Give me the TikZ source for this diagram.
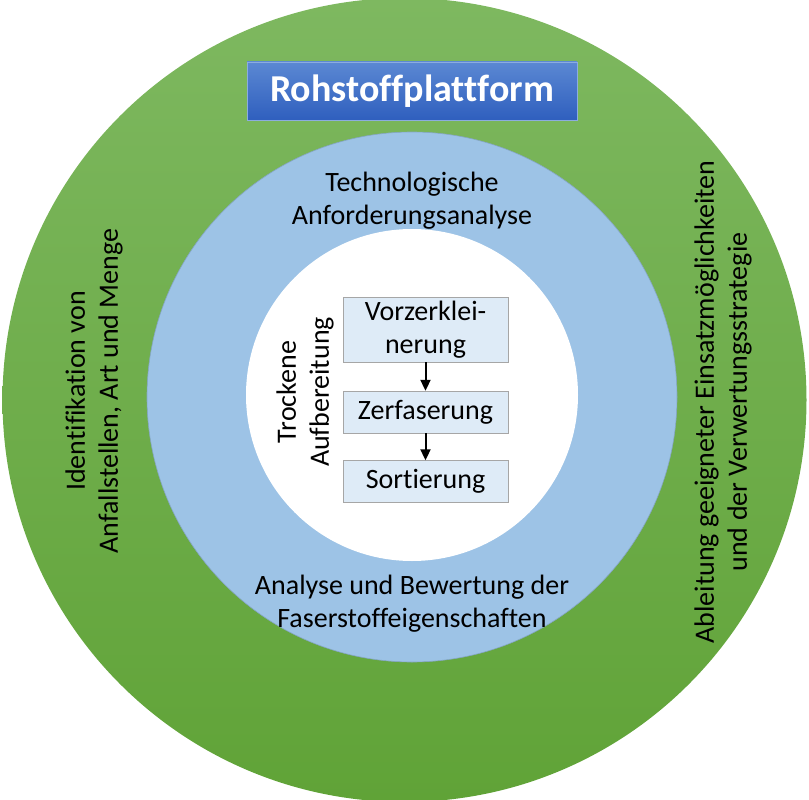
\documentclass[tikz,border=0pt]{standalone}
\usepackage{fontspec}
\setmainfont{Carlito}[Ligatures=NoCommon]
\usetikzlibrary{positioning,arrows.meta}

\definecolor{greenlight}{HTML}{7EB860}
\definecolor{greendark}{HTML}{60A337}
\definecolor{ringblue}{HTML}{9DC3E6}
\definecolor{stepfill}{HTML}{DEEBF7}
\definecolor{titletop}{HTML}{5B88D3}
\definecolor{titlebot}{HTML}{2F5FBE}

\tikzset{
	ringtext/.style={align=center, font=\fontsize{28}{33}\selectfont},
	stepbox/.style={draw=gray!70, fill=stepfill, minimum width=165pt, align=center,
		font=\fontsize{28}{33}\selectfont, inner sep=0pt},
	flow/.style={-{Triangle[length=11pt,width=10pt]}, line width=2pt},
}

\begin{document}
\begin{tikzpicture}[x=1pt, y=-1pt]
	\useasboundingbox (0,0) rectangle (809,800);

	% rings
	\shade[top color=greenlight, bottom color=greendark] (404.5,400) circle (402);
	\fill[ringblue] (412,397) circle (265);
	\draw[ringblue!85!black, line width=0.6pt] (412,397) circle (265);
	\fill[white] (412,395) circle (166);

	% title
	\node[draw=titletop!70!white, top color=titletop, bottom color=titlebot, text=white,
		minimum width=330pt, minimum height=58pt, font=\fontsize{38}{40}\selectfont\bfseries]
		(title) at (412,91) {Rohstoffplattform};

	% outer ring texts
	\node[ringtext, rotate=90] (ident) at (94,391) {Identifikation von\\Anfallstellen, Art und Menge};
	\node[ringtext, rotate=90] (ableit) at (723,402) {Ableitung geeigneter Einsatzmöglichkeiten\\und der Verwertungsstrategie};

	% middle ring texts
	\node[ringtext] (tech) at (412,201) {Technologische\\Anforderungsanalyse};
	\node[ringtext] (analyse) at (412,604) {Analyse und Bewertung der\\Faserstoffeigenschaften};

	% inner process
	\node[ringtext, rotate=90] (trocken) at (305,392) {Trockene\\Aufbereitung};
	\node[stepbox, minimum height=65pt] (vorz) at (425.5,329.5) {Vorzerklei-\\nerung};
	\node[stepbox, minimum height=42pt] (zerf) at (425.5,412) {Zerfaserung};
	\node[stepbox, minimum height=42pt] (sort) at (425.5,481.5) {Sortierung};
	\draw[flow] (vorz.south) -- (zerf.north);
	\draw[flow] (zerf.south) -- (sort.north);
\end{tikzpicture}
\end{document}
